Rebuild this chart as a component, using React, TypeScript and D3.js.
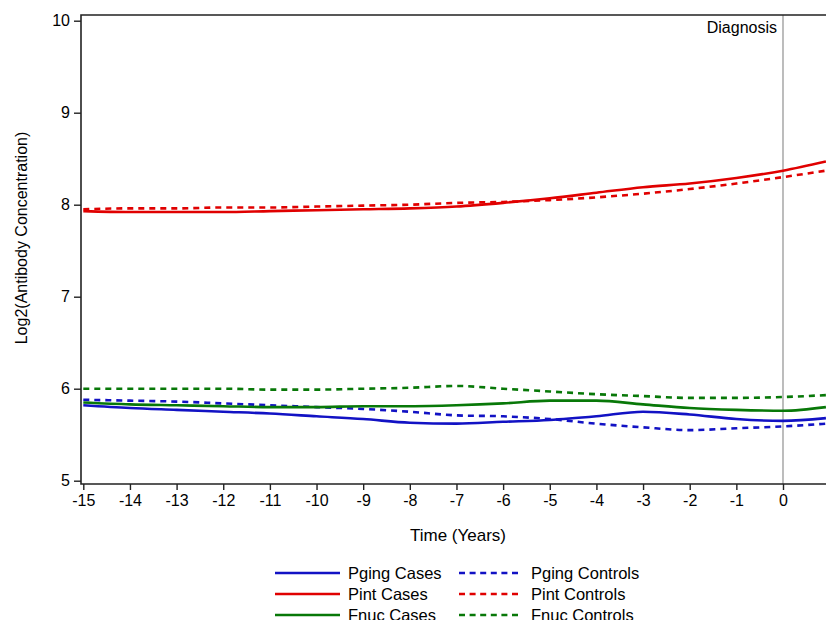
import React, { useRef, useEffect } from "react";
import * as d3 from "d3";

// time points (years relative to diagnosis)
const years = [-15, -14, -13, -12, -11, -10, -9, -8, -7, -6, -5, -4, -3, -2, -1, 0, 0.92];

const pgingCases = [5.82, 5.79, 5.77, 5.75, 5.73, 5.70, 5.67, 5.63, 5.62, 5.64, 5.66, 5.70, 5.75, 5.72, 5.67, 5.65, 5.68];
const pgingControls = [5.88, 5.87, 5.86, 5.84, 5.82, 5.80, 5.78, 5.75, 5.71, 5.70, 5.67, 5.62, 5.58, 5.55, 5.57, 5.59, 5.62];
const pintCases = [7.93, 7.92, 7.92, 7.92, 7.93, 7.94, 7.95, 7.96, 7.98, 8.02, 8.07, 8.13, 8.19, 8.23, 8.29, 8.37, 8.47];
const pintControls = [7.95, 7.96, 7.96, 7.97, 7.97, 7.98, 7.99, 8.0, 8.02, 8.03, 8.05, 8.08, 8.12, 8.17, 8.23, 8.30, 8.37];
const fnucCases = [5.85, 5.83, 5.82, 5.81, 5.80, 5.80, 5.81, 5.81, 5.82, 5.84, 5.87, 5.87, 5.83, 5.79, 5.77, 5.76, 5.80];
const fnucControls = [6.0, 6.0, 6.0, 6.0, 5.99, 5.99, 6.0, 6.01, 6.03, 6.0, 5.97, 5.94, 5.92, 5.90, 5.90, 5.91, 5.93];

const xTicks = [-15, -14, -13, -12, -11, -10, -9, -8, -7, -6, -5, -4, -3, -2, -1, 0];
const yTicks = [5, 6, 7, 8, 9, 10];

const BLUE = "#1212c4";
const RED = "#e00000";
const GREEN = "#087808";

const series = [
  { name: "Pging Cases", values: pgingCases, color: BLUE, dashed: false },
  { name: "Pging Controls", values: pgingControls, color: BLUE, dashed: true },
  { name: "Pint Cases", values: pintCases, color: RED, dashed: false },
  { name: "Pint Controls", values: pintControls, color: RED, dashed: true },
  { name: "Fnuc Cases", values: fnucCases, color: GREEN, dashed: false },
  { name: "Fnuc Controls", values: fnucControls, color: GREEN, dashed: true },
];

const FONT = "'Liberation Sans', Arial, sans-serif";

const App = () => {
  const svgRef = useRef<SVGSVGElement>(null);

  useEffect(() => {
    const svg = d3.select(svgRef.current);
    const width = 826;
    const height = 620;
    const left = 81;
    const top = 15;
    const bottom = 484;
    const right = 826;

    svg.attr("width", width).attr("height", height);

    const x = d3.scaleLinear().domain([-15, 0]).range([83.3, 783]);
    const y = d3.scaleLinear().domain([5, 10]).range([480.7, 20.7]);

    // clip
    svg
      .append("defs")
      .append("clipPath")
      .attr("id", "plot")
      .append("rect")
      .attr("x", left)
      .attr("y", top)
      .attr("width", right - left)
      .attr("height", bottom - top);

    // diagnosis reference line
    svg
      .append("line")
      .attr("x1", x(0))
      .attr("x2", x(0))
      .attr("y1", top)
      .attr("y2", bottom)
      .attr("stroke", "#999")
      .attr("stroke-width", 1.3);

    svg
      .append("text")
      .attr("x", x(0) - 6)
      .attr("y", 33)
      .attr("text-anchor", "end")
      .style("font-family", FONT)
      .style("font-size", "16px")
      .text("Diagnosis");

    // lines
    const line = d3
      .line<number>()
      .x((_, i) => x(years[i]))
      .y((d) => y(d))
      .curve(d3.curveMonotoneX);

    const g = svg.append("g").attr("clip-path", "url(#plot)");
    series.forEach((s) => {
      g.append("path")
        .attr("d", line(s.values))
        .attr("fill", "none")
        .attr("stroke", s.color)
        .attr("stroke-width", 2.6)
        .attr("stroke-dasharray", s.dashed ? "6,5" : null);
    });

    // frame
    svg
      .append("path")
      .attr("d", `M${right},${top}H${left}V${bottom}H${right}`)
      .attr("fill", "none")
      .attr("stroke", "#222")
      .attr("stroke-width", 1.6);

    // axes (plain hyphen for negatives, like the original)
    const fmt = (d: d3.NumberValue) => String(d);

    const yAxis = svg
      .append("g")
      .attr("transform", `translate(${left},0)`)
      .call(d3.axisLeft(y).tickValues(yTicks).tickSize(7).tickPadding(4).tickFormat(fmt));
    yAxis.select(".domain").remove();
    yAxis.selectAll("line").attr("stroke", "#222").attr("stroke-width", 1.4);
    yAxis.selectAll("text").style("font-family", FONT).style("font-size", "16px").attr("fill", "#000");

    const xAxis = svg
      .append("g")
      .attr("transform", `translate(0,${bottom})`)
      .call(d3.axisBottom(x).tickValues(xTicks).tickSize(6).tickPadding(5).tickFormat(fmt));
    xAxis.select(".domain").remove();
    xAxis.selectAll("line").attr("stroke", "#222").attr("stroke-width", 1.4);
    xAxis.selectAll("text").style("font-family", FONT).style("font-size", "16px").attr("fill", "#000");

    // axis labels
    svg
      .append("text")
      .attr("x", 458)
      .attr("y", 541)
      .attr("text-anchor", "middle")
      .style("font-family", FONT)
      .style("font-size", "17px")
      .text("Time (Years)");

    svg
      .append("text")
      .attr("transform", `translate(27,238) rotate(-90)`)
      .attr("text-anchor", "middle")
      .style("font-family", FONT)
      .style("font-size", "16px")
      .text("Log2(Antibody Concentration)");

    // legend
    const rows = [573, 594, 615];
    series.forEach((s, i) => {
      const row = Math.floor(i / 2);
      const col = i % 2;
      const ly = rows[row];
      const x0 = col === 0 ? 275 : 459;
      const x1 = col === 0 ? 340 : 518;
      const tx = col === 0 ? 348 : 531;
      svg
        .append("line")
        .attr("x1", x0)
        .attr("x2", x1)
        .attr("y1", ly)
        .attr("y2", ly)
        .attr("stroke", s.color)
        .attr("stroke-width", 2.6)
        .attr("stroke-dasharray", s.dashed ? "6,4.6" : null);
      svg
        .append("text")
        .attr("x", tx)
        .attr("y", ly + 6)
        .style("font-family", FONT)
        .style("font-size", "16.5px")
        .text(s.name);
    });

    return () => {
      svg.selectAll("*").remove();
    };
  }, []);

  return <svg ref={svgRef} style={{ position: "absolute", left: 0, top: 0 }} />;
};

export default App;
